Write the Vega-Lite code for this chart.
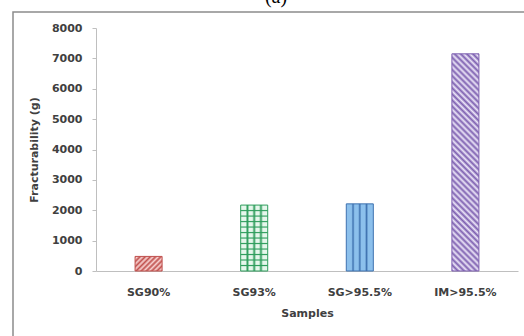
{
  "$schema": "https://vega.github.io/schema/vega-lite/v6.json",
  "autosize": {"type": "none"},
  "padding": {"left": 13, "top": 12, "right": 0, "bottom": 0},
  "width": 512,
  "height": 330,
  "background": "white",
  "title": {
    "text": "(a)",
    "font": "Liberation Serif",
    "fontSize": 20,
    "fontWeight": "normal",
    "color": "#000000",
    "anchor": "middle",
    "frame": "group",
    "baseline": "alphabetic",
    "offset": -11,
    "dx": 7
  },
  "config": {
    "view": {"stroke": "#8c8c8c", "strokeWidth": 1.5},
    "axis": {
      "grid": false,
      "domainColor": "#bfbfbf",
      "domainWidth": 1,
      "tickColor": "#bfbfbf",
      "labelFont": "DejaVu Sans",
      "labelFontSize": 11,
      "labelFontWeight": "bold",
      "labelColor": "#404040",
      "titleFont": "DejaVu Sans",
      "titleFontSize": 11,
      "titleFontWeight": "bold",
      "titleColor": "#404040"
    }
  },
  "data": {
    "values": [
      {"sample": "SG90%", "fracturability": 480},
      {"sample": "SG93%", "fracturability": 2170},
      {"sample": "SG>95.5%", "fracturability": 2210},
      {"sample": "IM>95.5%", "fracturability": 7150}
    ]
  },
  "encoding": {
    "x": {
      "field": "sample",
      "type": "nominal",
      "sort": null,
      "scale": {"range": [83, 505], "paddingInner": 0.744, "paddingOuter": 0.37},
      "axis": {
        "title": "Samples",
        "labelAngle": 0,
        "ticks": false,
        "tickSize": 0,
        "labelPadding": 15,
        "titlePadding": 10,
        "offset": -71
      }
    },
    "y": {
      "field": "fracturability",
      "type": "quantitative",
      "scale": {"domain": [0, 8000], "range": [259, 16], "nice": false},
      "axis": {
        "title": "Fracturability (g)",
        "values": [0, 1000, 2000, 3000, 4000, 5000, 6000, 7000, 8000],
        "format": "d",
        "tickSize": 4,
        "labelPadding": 10,
        "titlePadding": 12,
        "offset": -83
      }
    }
  },
  "layer": [
    {
      "transform": [{"filter": "datum.sample === 'SG90%'"}],
      "mark": {
        "type": "bar",
        "stroke": "#c0504d",
        "strokeWidth": 1,
        "fill": {
          "gradient": "linear",
          "x1": 0, "y1": 0, "x2": 1.192, "y2": 0.645,
          "stops": [
            {"offset": 0, "color": "#c0504d"},
            {"offset": 0.0625, "color": "#f9d4d3"},
            {"offset": 0.125, "color": "#c0504d"},
            {"offset": 0.1875, "color": "#f9d4d3"},
            {"offset": 0.25, "color": "#c0504d"},
            {"offset": 0.3125, "color": "#f9d4d3"},
            {"offset": 0.375, "color": "#c0504d"},
            {"offset": 0.4375, "color": "#f9d4d3"},
            {"offset": 0.5, "color": "#c0504d"},
            {"offset": 0.5625, "color": "#f9d4d3"},
            {"offset": 0.625, "color": "#c0504d"},
            {"offset": 0.6875, "color": "#f9d4d3"},
            {"offset": 0.75, "color": "#c0504d"},
            {"offset": 0.8125, "color": "#f9d4d3"},
            {"offset": 0.875, "color": "#c0504d"},
            {"offset": 0.9375, "color": "#f9d4d3"},
            {"offset": 1, "color": "#c0504d"}
          ]
        }
      }
    },
    {
      "transform": [{"filter": "datum.sample === 'SG93%'"}],
      "mark": {
        "type": "bar",
        "stroke": "#2e9d5c",
        "strokeWidth": 1,
        "fill": {
          "gradient": "linear",
          "x1": 0, "y1": 0, "x2": 1, "y2": 0,
          "stops": [
            {"offset": 0, "color": "#e6f7ec"},
            {"offset": 0.18, "color": "#e6f7ec"},
            {"offset": 0.25, "color": "#2e9d5c"},
            {"offset": 0.32, "color": "#e6f7ec"},
            {"offset": 0.43, "color": "#e6f7ec"},
            {"offset": 0.5, "color": "#2e9d5c"},
            {"offset": 0.57, "color": "#e6f7ec"},
            {"offset": 0.68, "color": "#e6f7ec"},
            {"offset": 0.75, "color": "#2e9d5c"},
            {"offset": 0.82, "color": "#e6f7ec"},
            {"offset": 1, "color": "#e6f7ec"}
          ]
        }
      }
    },
    {
      "transform": [{"filter": "datum.sample === 'SG93%'"}],
      "mark": {
        "type": "bar",
        "strokeWidth": 0,
        "fill": {
          "gradient": "linear",
          "x1": 0, "y1": 0, "x2": 0, "y2": 1,
          "stops": [
            {"offset": 0, "color": "rgba(46,157,92,0)"},
            {"offset": 0.066, "color": "rgba(46,157,92,0)"},
            {"offset": 0.0833, "color": "rgba(46,157,92,1)"},
            {"offset": 0.1, "color": "rgba(46,157,92,0)"},
            {"offset": 0.15, "color": "rgba(46,157,92,0)"},
            {"offset": 0.1667, "color": "rgba(46,157,92,1)"},
            {"offset": 0.184, "color": "rgba(46,157,92,0)"},
            {"offset": 0.233, "color": "rgba(46,157,92,0)"},
            {"offset": 0.25, "color": "rgba(46,157,92,1)"},
            {"offset": 0.267, "color": "rgba(46,157,92,0)"},
            {"offset": 0.316, "color": "rgba(46,157,92,0)"},
            {"offset": 0.3333, "color": "rgba(46,157,92,1)"},
            {"offset": 0.35, "color": "rgba(46,157,92,0)"},
            {"offset": 0.4, "color": "rgba(46,157,92,0)"},
            {"offset": 0.4167, "color": "rgba(46,157,92,1)"},
            {"offset": 0.434, "color": "rgba(46,157,92,0)"},
            {"offset": 0.483, "color": "rgba(46,157,92,0)"},
            {"offset": 0.5, "color": "rgba(46,157,92,1)"},
            {"offset": 0.517, "color": "rgba(46,157,92,0)"},
            {"offset": 0.566, "color": "rgba(46,157,92,0)"},
            {"offset": 0.5833, "color": "rgba(46,157,92,1)"},
            {"offset": 0.6, "color": "rgba(46,157,92,0)"},
            {"offset": 0.65, "color": "rgba(46,157,92,0)"},
            {"offset": 0.6667, "color": "rgba(46,157,92,1)"},
            {"offset": 0.684, "color": "rgba(46,157,92,0)"},
            {"offset": 0.733, "color": "rgba(46,157,92,0)"},
            {"offset": 0.75, "color": "rgba(46,157,92,1)"},
            {"offset": 0.767, "color": "rgba(46,157,92,0)"},
            {"offset": 0.816, "color": "rgba(46,157,92,0)"},
            {"offset": 0.8333, "color": "rgba(46,157,92,1)"},
            {"offset": 0.85, "color": "rgba(46,157,92,0)"},
            {"offset": 0.9, "color": "rgba(46,157,92,0)"},
            {"offset": 0.9167, "color": "rgba(46,157,92,1)"},
            {"offset": 0.934, "color": "rgba(46,157,92,0)"},
            {"offset": 1, "color": "rgba(46,157,92,0)"}
          ]
        }
      }
    },
    {
      "transform": [{"filter": "datum.sample === 'SG>95.5%'"}],
      "mark": {
        "type": "bar",
        "stroke": "#3f72b0",
        "strokeWidth": 1,
        "fill": {
          "gradient": "linear",
          "x1": 0, "y1": 0, "x2": 1, "y2": 0,
          "stops": [
            {"offset": 0, "color": "#8cc0ec"},
            {"offset": 0.19, "color": "#8cc0ec"},
            {"offset": 0.25, "color": "#3f72b0"},
            {"offset": 0.31, "color": "#8cc0ec"},
            {"offset": 0.44, "color": "#8cc0ec"},
            {"offset": 0.5, "color": "#3f72b0"},
            {"offset": 0.56, "color": "#8cc0ec"},
            {"offset": 0.69, "color": "#8cc0ec"},
            {"offset": 0.75, "color": "#3f72b0"},
            {"offset": 0.81, "color": "#8cc0ec"},
            {"offset": 1, "color": "#8cc0ec"}
          ]
        }
      }
    },
    {
      "transform": [{"filter": "datum.sample === 'IM>95.5%'"}],
      "mark": {
        "type": "bar",
        "stroke": "#7d5fb0",
        "strokeWidth": 1,
        "fill": {
          "gradient": "linear",
          "x1": 1, "y1": 0, "x2": 0.862, "y2": 1.107,
          "stops": [
            {"offset": 0, "color": "#7d5fb0"}, {"offset": 0.0125, "color": "#ece6f8"},
            {"offset": 0.025, "color": "#7d5fb0"}, {"offset": 0.0375, "color": "#ece6f8"},
            {"offset": 0.05, "color": "#7d5fb0"}, {"offset": 0.0625, "color": "#ece6f8"},
            {"offset": 0.075, "color": "#7d5fb0"}, {"offset": 0.0875, "color": "#ece6f8"},
            {"offset": 0.1, "color": "#7d5fb0"}, {"offset": 0.1125, "color": "#ece6f8"},
            {"offset": 0.125, "color": "#7d5fb0"}, {"offset": 0.1375, "color": "#ece6f8"},
            {"offset": 0.15, "color": "#7d5fb0"}, {"offset": 0.1625, "color": "#ece6f8"},
            {"offset": 0.175, "color": "#7d5fb0"}, {"offset": 0.1875, "color": "#ece6f8"},
            {"offset": 0.2, "color": "#7d5fb0"}, {"offset": 0.2125, "color": "#ece6f8"},
            {"offset": 0.225, "color": "#7d5fb0"}, {"offset": 0.2375, "color": "#ece6f8"},
            {"offset": 0.25, "color": "#7d5fb0"}, {"offset": 0.2625, "color": "#ece6f8"},
            {"offset": 0.275, "color": "#7d5fb0"}, {"offset": 0.2875, "color": "#ece6f8"},
            {"offset": 0.3, "color": "#7d5fb0"}, {"offset": 0.3125, "color": "#ece6f8"},
            {"offset": 0.325, "color": "#7d5fb0"}, {"offset": 0.3375, "color": "#ece6f8"},
            {"offset": 0.35, "color": "#7d5fb0"}, {"offset": 0.3625, "color": "#ece6f8"},
            {"offset": 0.375, "color": "#7d5fb0"}, {"offset": 0.3875, "color": "#ece6f8"},
            {"offset": 0.4, "color": "#7d5fb0"}, {"offset": 0.4125, "color": "#ece6f8"},
            {"offset": 0.425, "color": "#7d5fb0"}, {"offset": 0.4375, "color": "#ece6f8"},
            {"offset": 0.45, "color": "#7d5fb0"}, {"offset": 0.4625, "color": "#ece6f8"},
            {"offset": 0.475, "color": "#7d5fb0"}, {"offset": 0.4875, "color": "#ece6f8"},
            {"offset": 0.5, "color": "#7d5fb0"}, {"offset": 0.5125, "color": "#ece6f8"},
            {"offset": 0.525, "color": "#7d5fb0"}, {"offset": 0.5375, "color": "#ece6f8"},
            {"offset": 0.55, "color": "#7d5fb0"}, {"offset": 0.5625, "color": "#ece6f8"},
            {"offset": 0.575, "color": "#7d5fb0"}, {"offset": 0.5875, "color": "#ece6f8"},
            {"offset": 0.6, "color": "#7d5fb0"}, {"offset": 0.6125, "color": "#ece6f8"},
            {"offset": 0.625, "color": "#7d5fb0"}, {"offset": 0.6375, "color": "#ece6f8"},
            {"offset": 0.65, "color": "#7d5fb0"}, {"offset": 0.6625, "color": "#ece6f8"},
            {"offset": 0.675, "color": "#7d5fb0"}, {"offset": 0.6875, "color": "#ece6f8"},
            {"offset": 0.7, "color": "#7d5fb0"}, {"offset": 0.7125, "color": "#ece6f8"},
            {"offset": 0.725, "color": "#7d5fb0"}, {"offset": 0.7375, "color": "#ece6f8"},
            {"offset": 0.75, "color": "#7d5fb0"}, {"offset": 0.7625, "color": "#ece6f8"},
            {"offset": 0.775, "color": "#7d5fb0"}, {"offset": 0.7875, "color": "#ece6f8"},
            {"offset": 0.8, "color": "#7d5fb0"}, {"offset": 0.8125, "color": "#ece6f8"},
            {"offset": 0.825, "color": "#7d5fb0"}, {"offset": 0.8375, "color": "#ece6f8"},
            {"offset": 0.85, "color": "#7d5fb0"}, {"offset": 0.8625, "color": "#ece6f8"},
            {"offset": 0.875, "color": "#7d5fb0"}, {"offset": 0.8875, "color": "#ece6f8"},
            {"offset": 0.9, "color": "#7d5fb0"}, {"offset": 0.9125, "color": "#ece6f8"},
            {"offset": 0.925, "color": "#7d5fb0"}, {"offset": 0.9375, "color": "#ece6f8"},
            {"offset": 0.95, "color": "#7d5fb0"}, {"offset": 0.9625, "color": "#ece6f8"},
            {"offset": 0.975, "color": "#7d5fb0"}, {"offset": 0.9875, "color": "#ece6f8"},
            {"offset": 1, "color": "#7d5fb0"}
          ]
        }
      }
    }
  ]
}
